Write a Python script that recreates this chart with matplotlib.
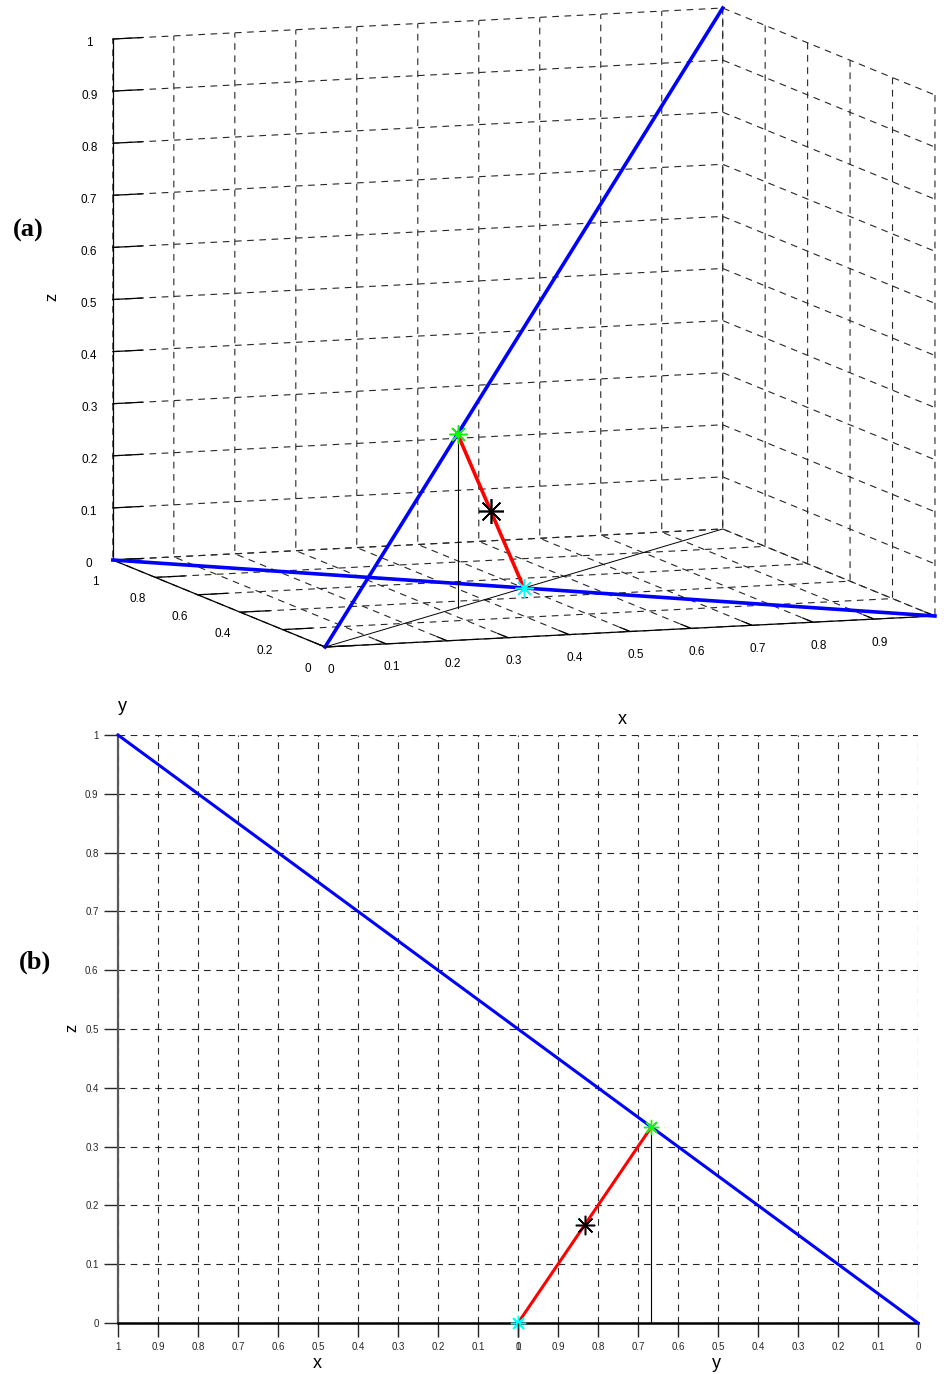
import matplotlib
matplotlib.use("Agg")
import matplotlib.pyplot as plt
import numpy as np
from matplotlib.ticker import FormatStrFormatter, FixedFormatter
from mpl_toolkits.mplot3d import proj3d

# ---------------- (a) 3D view ----------------
diag_x, diag_y, diag_z = [0, 1], [0, 1], [0, 1]      # x = y = z
edge_x, edge_y, edge_z = [0, 1], [1, 0], [0, 0]      # x + y = 1 on the floor
floor_x, floor_y, floor_z = [0, 1], [0, 1], [0, 0]   # x = y on the floor
green_pt = (1 / 3, 1 / 3, 1 / 3)
cyan_pt = (1 / 2, 1 / 2, 0)
mid_pt = (5 / 12, 5 / 12, 1 / 6)

x_ticks = np.round(np.arange(0, 1.01, 0.1), 1)
y_ticks = np.round(np.arange(0, 1.01, 0.2), 1)
z_ticks = np.round(np.arange(0, 1.01, 0.1), 1)

# ---------------- (b) unfolded view ----------------
# left half runs over x (1 -> 0), right half over y (1 -> 0)
def ux(x):
    return 1 - np.asarray(x, float)

def uy(y):
    return 2 - np.asarray(y, float)

blue_b_x, blue_b_z = [1], [1]      # start of the line, on the x half
blue_b_y, blue_b_z2 = [0], [0]     # end of the line, on the y half
green_b = (2 / 3, 1 / 3)           # (y, z)
cyan_b = (1, 0)
mid_b = (5 / 6, 1 / 6)
half_ticks = np.round(np.arange(1, -0.01, -0.1), 1)
z_ticks_b = np.round(np.arange(0, 1.01, 0.1), 1)

W, H = 950, 1374
plt.rcParams["font.family"] = ["Liberation Sans", "DejaVu Sans"]
plt.rcParams["grid.linestyle"] = "--"
plt.rcParams["grid.color"] = "0.15"
plt.rcParams["grid.linewidth"] = 0.8
plt.rcParams["lines.dashed_pattern"] = [6.0, 5.0]
plt.rcParams["axes3d.automargin"] = False

fig = plt.figure(figsize=(W / 100, H / 100), dpi=100)

ax3 = fig.add_axes([0.05, 0.40, 0.9, 0.9 * W / H], projection="3d", proj_type="ortho")
ax3.view_init(elev=8.3, azim=-109.4)
ax3.set_box_aspect((646.6, 639.0, 526.5))
ax3.set_xlim(0, 1)
ax3.set_ylim(0, 1)
ax3.set_zlim(0, 1)

ax3.plot(diag_x, diag_y, diag_z, color="blue", lw=2.6)
ax3.plot(edge_x, edge_y, edge_z, color="blue", lw=2.6)
ax3.plot(floor_x, floor_y, floor_z, color="black", lw=0.7)
ax3.plot([green_pt[0], green_pt[0]], [green_pt[1], green_pt[1]], [0, green_pt[2]],
         color="black", lw=0.8)
ax3.plot([green_pt[0], cyan_pt[0]], [green_pt[1], cyan_pt[1]], [green_pt[2], cyan_pt[2]],
         color="red", lw=2.6)
star = (8, 2, 0)
ax3.plot(*[[v] for v in green_pt], marker=star, ms=13, mew=1.1, color="#00ff00", ls="none")
ax3.plot(*[[v] for v in cyan_pt], marker=star, ms=13, mew=1.1, color="cyan", ls="none")
ax3.plot(*[[v] for v in mid_pt], marker=star, ms=18, mew=1.2, color="black", ls="none")

ax3.set_xticks(x_ticks)
ax3.set_yticks(y_ticks)
ax3.set_zticks(z_ticks)
ax3.xaxis.set_major_formatter(FixedFormatter(["%g" % v for v in x_ticks[:-1]] + [""]))
ax3.yaxis.set_major_formatter(FormatStrFormatter("%g"))
ax3.zaxis.set_major_formatter(FormatStrFormatter("%g"))
ax3.tick_params(labelsize=8.5, pad=3)
for axis in (ax3.xaxis, ax3.yaxis, ax3.zaxis):
    axis.set_pane_color((1, 1, 1, 0))
    axis.pane.set_edgecolor((1, 1, 1, 0))
    axis.line.set_color("black")
    axis.line.set_linewidth(0.9)
    axis._axinfo["tick"]["inward_factor"] = 0.0
    axis._axinfo["tick"]["outward_factor"] = 0.6
    axis._axinfo["tick"]["linewidth"] = {True: 0.9, False: 0.5}
    axis._axinfo["tick"]["color"] = "black"

# place the cube: floor origin, unit x, unit y and unit z in figure pixels
anchors = np.array([[0, 0, 0], [1, 0, 0], [0, 1, 0], [0, 0, 1]], float)
anchor_px = np.array([[325, 647], [935, 616], [113, 560], [325, 126]], float)
anchor_px[:, 1] = H - anchor_px[:, 1]

def projected(ax, pts):
    px, py, _ = proj3d.proj_transform(pts[:, 0], pts[:, 1], pts[:, 2], ax.get_proj())
    return ax.transData.transform(np.column_stack([px, py]))

for _ in range(2):
    fig.canvas.draw()
    bb = ax3.get_position().transformed(fig.transFigure)
    c0 = np.array([bb.x0 + bb.width / 2, bb.y0 + bb.height / 2])
    s0 = bb.width
    f = (projected(ax3, anchors) - c0) / s0
    fm, tm = f.mean(0), anchor_px.mean(0)
    s = ((f - fm) * (anchor_px - tm)).sum() / ((f - fm) ** 2).sum()
    c = tm - s * fm
    ax3.set_position([(c[0] - s / 2) / W, (c[1] - s / 2) / H, s / W, s / H])

# ---------------- (b) ----------------
ax = fig.add_axes([118 / W, 1 - 1323 / H, 800 / W, 588 / H])
ax.plot(np.concatenate([ux(blue_b_x), uy(blue_b_y)]), blue_b_z + blue_b_z2,
        color="blue", lw=2.2, zorder=3, clip_on=False)
ax.plot([uy(green_b[0])] * 2, [0, green_b[1]], color="black", lw=0.8, zorder=3)
ax.plot(uy([cyan_b[0], green_b[0]]), [cyan_b[1], green_b[1]], color="red", lw=2.2,
        zorder=3, clip_on=False)
ax.plot(uy([green_b[0]]), [green_b[1]], marker=star, ms=11, mew=1.0, color="#00ff00",
        ls="none", zorder=4, clip_on=False)
ax.plot(uy([cyan_b[0]]), [cyan_b[1]], marker=star, ms=11, mew=1.0, color="cyan",
        ls="none", zorder=4, clip_on=False)
ax.plot(uy([mid_b[0]]), [mid_b[1]], marker=star, ms=14, mew=1.1, color="black",
        ls="none", zorder=4, clip_on=False)

ax.set_xlim(0, 2)
ax.set_ylim(0, 1)
ax.set_xticks(np.concatenate([ux(half_ticks), uy(half_ticks[1:])]))
ax.set_xticklabels(["%g" % v for v in half_ticks] + ["%g" % v for v in half_ticks[1:]])
ax.set_yticks(z_ticks_b)
ax.set_yticklabels(["%g" % v for v in z_ticks_b])
ax.grid(True, color="0.15", lw=0.8, ls="--")
ax.tick_params(direction="out", length=10, width=1.0, labelsize=7, pad=4, colors="0.15")
for side in ("top", "right"):
    ax.spines[side].set_visible(False)
ax.spines["left"].set_color("0.35")
ax.spines["left"].set_linewidth(1.6)
ax.spines["bottom"].set_linewidth(1.8)

# the y half starts at 1 where the x half ends at 0
twin = ax.twiny()
twin.set_xlim(0, 2)
twin.xaxis.set_ticks_position("bottom")
twin.set_xticks(uy([1]))
twin.set_xticklabels(["1"])
twin.tick_params(direction="out", length=10, width=1.0, labelsize=7, pad=4, colors="0.15")
for sp in twin.spines.values():
    sp.set_visible(False)

serif = ["Liberation Serif", "DejaVu Serif"]
fig.text(28 / W, 1 - 230 / H, "(a)", fontsize=19, fontweight="bold", family=serif,
         ha="center", va="center")
fig.text(35 / W, 1 - 962 / H, "(b)", fontsize=19, fontweight="bold", family=serif,
         ha="center", va="center")
fig.text(52 / W, 1 - 297 / H, "z", fontsize=12, rotation=90, ha="center", va="center")
fig.text(72 / W, 1 - 1028 / H, "z", fontsize=12, rotation=90, ha="center", va="center")
fig.text(122 / W, 1 - 706 / H, "y", fontsize=13, ha="center", va="center")
fig.text(622 / W, 1 - 720 / H, "x", fontsize=13, ha="center", va="center")
fig.text(317 / W, 1 - 1363 / H, "x", fontsize=13, ha="center", va="center")
fig.text(716 / W, 1 - 1363 / H, "y", fontsize=13, ha="center", va="center")

fig.savefig("out.png", dpi=100)
